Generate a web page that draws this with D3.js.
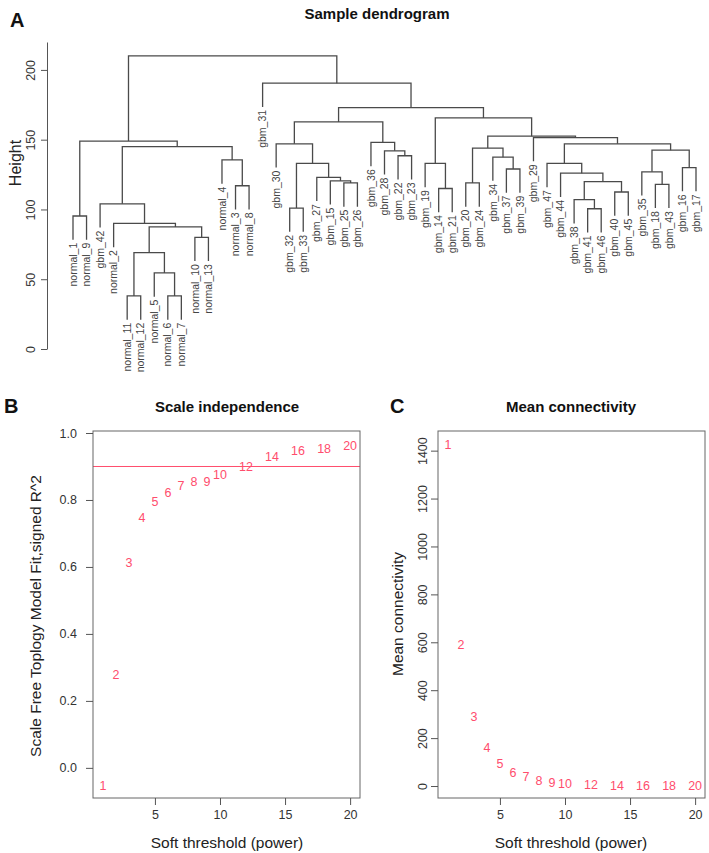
<!DOCTYPE html>
<html>
<head>
<meta charset="utf-8">
<script src="https://cdn.jsdelivr.net/npm/d3@7"></script>
<style>
  body { margin: 0; background: #fff; }
  text { font-family: "Liberation Sans", Arial, sans-serif; }
</style>
</head>
<body>
<svg id="fig"></svg>
<script>
// leaf order of the sample dendrogram
const leafNames = [
  "normal_1", "normal_9", "gbm_42", "normal_2", "normal_11", "normal_12", "normal_5",
  "normal_6", "normal_7", "normal_10", "normal_13", "normal_4", "normal_3", "normal_8",
  "gbm_31", "gbm_30", "gbm_32", "gbm_33", "gbm_27", "gbm_15", "gbm_25", "gbm_26",
  "gbm_36", "gbm_28", "gbm_22", "gbm_23", "gbm_19", "gbm_14", "gbm_21", "gbm_20",
  "gbm_24", "gbm_34", "gbm_37", "gbm_39", "gbm_29", "gbm_47", "gbm_44", "gbm_38",
  "gbm_41", "gbm_46", "gbm_40", "gbm_45", "gbm_35", "gbm_18", "gbm_43", "gbm_16", "gbm_17"
];

// merges, bottom up (children are leaf names or earlier merges "m<i>")
const merges = [
  ["normal_11", "normal_12"], ["normal_6", "normal_7"], ["normal_5", "m1"], ["m0", "m2"],
  ["normal_10", "normal_13"], ["m3", "m4"], ["normal_2", "m5"], ["gbm_42", "m6"],
  ["normal_1", "normal_9"], ["normal_3", "normal_8"], ["normal_4", "m9"], ["m7", "m10"],
  ["m8", "m11"], ["gbm_32", "gbm_33"], ["gbm_25", "gbm_26"], ["gbm_15", "m14"],
  ["gbm_27", "m15"], ["m13", "m16"], ["gbm_30", "m17"], ["gbm_22", "gbm_23"],
  ["gbm_28", "m19"], ["gbm_36", "m20"], ["m18", "m21"], ["gbm_14", "gbm_21"],
  ["gbm_19", "m23"], ["gbm_20", "gbm_24"], ["gbm_37", "gbm_39"], ["gbm_34", "m26"],
  ["m25", "m27"], ["gbm_41", "gbm_46"], ["gbm_38", "m29"], ["gbm_40", "gbm_45"],
  ["m30", "m31"], ["gbm_44", "m32"], ["gbm_47", "m33"], ["gbm_18", "gbm_43"],
  ["gbm_35", "m35"], ["gbm_16", "gbm_17"], ["m36", "m37"], ["m34", "m38"],
  ["gbm_29", "m39"], ["m28", "m40"], ["m24", "m41"], ["m22", "m42"],
  ["gbm_31", "m43"], ["m12", "m44"]
];
const mergeHeights = [
  38, 38, 54.5, 69, 80, 87.5, 90, 104, 95.3, 117, 135.5, 145, 149,
  101, 119, 120.5, 123, 133, 147, 138.5, 142, 148, 162.7,
  115, 133, 119, 129, 137.5, 144, 100.5, 107, 112.5, 120, 126, 133,
  118, 127, 130, 142.5, 147, 151.5, 152.5, 165.6, 173, 190.5, 210
];
const heightTicks = [0, 50, 100, 150, 200];

// soft threshold analysis
const powers = [1, 2, 3, 4, 5, 6, 7, 8, 9, 10, 12, 14, 16, 18, 20];
const fitR2 = [-0.054, 0.278, 0.612, 0.746, 0.794, 0.821, 0.842, 0.854, 0.854, 0.875, 0.901, 0.928, 0.946, 0.952, 0.961];
const meanK = [1424, 589, 288, 159, 92, 58, 38, 22, 14, 10, 5, 2.5, 1.3, 0.8, 0.5];
const r2Cut = 0.9;
const r2Ticks = [0, 0.2, 0.4, 0.6, 0.8, 1.0];
const kTicks = [0, 200, 400, 600, 800, 1000, 1200, 1400];
const powerTicks = [5, 10, 15, 20];

const W = 709, H = 853;
const ink = "#555", lbl = "#333", red = "#ff4d6d";

const svg = d3.select("#fig").attr("width", W).attr("height", H);

function styleAxis(g) {
  g.select(".domain").attr("stroke", ink);
  g.selectAll(".tick line").attr("stroke", ink);
  g.selectAll(".tick text").attr("fill", lbl).style("font-size", "12.5px")
    .style("font-family", '"Liberation Sans", Arial, sans-serif');
}

function panelLetter(x, y, t) {
  svg.append("text").attr("x", x).attr("y", y).text(t)
    .style("font-size", "20px").style("font-weight", "bold").attr("fill", "#111");
}
function title(x, y, t) {
  svg.append("text").attr("x", x).attr("y", y).attr("text-anchor", "middle").text(t)
    .style("font-size", "15px").style("font-weight", "bold").attr("fill", "#111");
}
function vLabel(x, y, t, size) {
  svg.append("text").attr("transform", `translate(${x},${y}) rotate(-90)`)
    .attr("text-anchor", "middle").text(t).style("font-size", size).attr("fill", "#222");
}

// ---------- A: dendrogram ----------
panelLetter(10, 27, "A");
title(377, 19, "Sample dendrogram");

const xLeaf = d3.scalePoint().domain(leafNames).range([73, 696]);
const yH = d3.scaleLinear().domain([0, 220]).range([349, 42]);
const hang = 17;

const nodeX = {}, nodeH = {}, leafEnd = {};
leafNames.forEach(n => nodeX[n] = xLeaf(n));

const dend = svg.append("g");
merges.forEach(([a, b], i) => {
  const id = "m" + i, h = mergeHeights[i];
  nodeX[id] = (nodeX[a] + nodeX[b]) / 2;
  nodeH[id] = h;
  const ha = a in nodeH ? nodeH[a] : (leafEnd[a] = h - hang);
  const hb = b in nodeH ? nodeH[b] : (leafEnd[b] = h - hang);
  dend.append("path")
    .attr("d", `M${nodeX[a]},${yH(ha)}V${yH(h)}H${nodeX[b]}V${yH(hb)}`)
    .attr("fill", "none").attr("stroke", "#4a4a4a").attr("stroke-width", 1.3);
});

dend.selectAll("text.leaf").data(leafNames).join("text")
  .attr("class", "leaf")
  .attr("transform", d => `translate(${xLeaf(d)},${yH(leafEnd[d]) + 3}) rotate(-90)`)
  .attr("text-anchor", "end").attr("dy", "0.35em")
  .style("font-size", "10.5px").attr("fill", "#444")
  .text(d => d);

const axA = svg.append("g").attr("transform", "translate(47,0)")
  .call(d3.axisLeft(yH).tickValues(heightTicks).tickSize(6).tickSizeOuter(0));
styleAxis(axA);
axA.selectAll(".tick text").attr("x", 0).attr("dy", 0).attr("text-anchor", "middle")
  .attr("transform", "translate(-12,0) rotate(-90)");
vLabel(21, 163, "Height", "16px");

// ---------- B: scale independence ----------
const boxTop = 431, boxBot = 798;
const xB = d3.scaleLinear().domain([0.24, 20.76]).range([93, 360]);
const yB = d3.scaleLinear().domain([-0.09, 1.006]).range([boxBot, boxTop]);

panelLetter(4, 413, "B");
title(227, 412, "Scale independence");

svg.append("line").attr("x1", xB.range()[0]).attr("x2", xB.range()[1])
  .attr("y1", yB(r2Cut)).attr("y2", yB(r2Cut)).attr("stroke", red).attr("stroke-width", 1);

svg.append("g").selectAll("text").data(powers).join("text")
  .attr("x", d => xB(d)).attr("y", (d, i) => yB(fitR2[i]))
  .attr("text-anchor", "middle").attr("dy", "0.35em")
  .style("font-size", "12.5px").attr("fill", red).text(d => d);

svg.append("rect").attr("x", 93).attr("y", boxTop).attr("width", 267).attr("height", boxBot - boxTop)
  .attr("fill", "none").attr("stroke", "#666");

const axBx = svg.append("g").attr("transform", `translate(0,${boxBot})`)
  .call(d3.axisBottom(xB).tickValues(powerTicks).tickSize(7).tickPadding(5));
styleAxis(axBx);
axBx.select(".domain").remove();
const axBy = svg.append("g").attr("transform", "translate(93,0)")
  .call(d3.axisLeft(yB).tickValues(r2Ticks).tickFormat(d3.format(".1f")).tickSize(7).tickPadding(9));
styleAxis(axBy);
axBy.select(".domain").remove();

vLabel(41, 616, "Scale Free Toplogy Model Fit,signed R^2", "15.5px");
svg.append("text").attr("x", 227).attr("y", 848).attr("text-anchor", "middle")
  .text("Soft threshold (power)").style("font-size", "15.5px").attr("fill", "#222");

// ---------- C: mean connectivity ----------
const xC = d3.scaleLinear().domain([0.24, 20.76]).range([438, 705]);
const yC = d3.scaleLinear().domain([-50, 1482]).range([boxBot, boxTop]);

panelLetter(390, 413, "C");
title(571, 412, "Mean connectivity");

svg.append("g").selectAll("text").data(powers).join("text")
  .attr("x", d => xC(d)).attr("y", (d, i) => yC(meanK[i]))
  .attr("text-anchor", "middle").attr("dy", "0.35em")
  .style("font-size", "12.5px").attr("fill", red).text(d => d);

svg.append("rect").attr("x", 438).attr("y", boxTop).attr("width", 267).attr("height", boxBot - boxTop)
  .attr("fill", "none").attr("stroke", "#666");

const axCx = svg.append("g").attr("transform", `translate(0,${boxBot})`)
  .call(d3.axisBottom(xC).tickValues(powerTicks).tickSize(7).tickPadding(5));
styleAxis(axCx);
axCx.select(".domain").remove();
const axCy = svg.append("g").attr("transform", "translate(438,0)")
  .call(d3.axisLeft(yC).tickValues(kTicks).tickFormat(d3.format("d")).tickSize(7));
styleAxis(axCy);
axCy.select(".domain").remove();
axCy.selectAll(".tick text").attr("x", 0).attr("dy", 0).attr("text-anchor", "middle")
  .attr("transform", "translate(-11,0) rotate(-90)");

vLabel(403, 614, "Mean connectivity", "15.5px");
svg.append("text").attr("x", 571).attr("y", 848).attr("text-anchor", "middle")
  .text("Soft threshold (power)").style("font-size", "15.5px").attr("fill", "#222");
</script>
</body>
</html>
